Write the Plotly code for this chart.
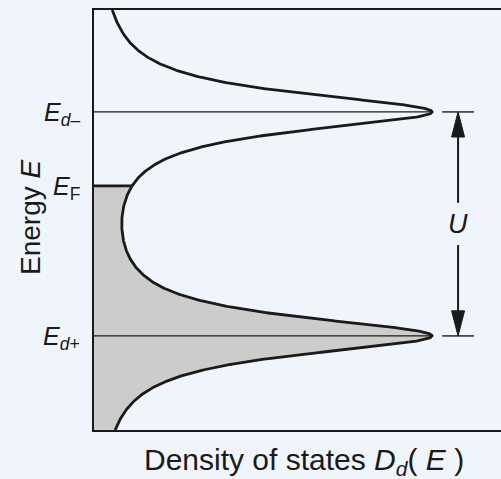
import numpy as np
import plotly.graph_objects as go

# Energy levels (in units of U, with E_d+ as the zero)
E_d_plus = 0.0
E_d_minus = 1.0
E_F = 0.67
gamma = 0.104          # Lorentzian half-width
E_min, E_max = -0.42, 1.455
D_max = 1.204          # horizontal extent of the axis (peak height = 1)

# Arrow / marker geometry for the U indicator
arrow_x = 1.077
tick_x0, tick_x1 = 1.030, 1.124
gap_lo, gap_hi = 0.406, 0.594
head_len, head_half = 0.112, 0.0192

line_col = "#1a1a1a"
fill_col = "#cccccc"
bg_col = "#eff5fb"
font_family = "Liberation Sans, Arial, Helvetica, sans-serif"


def dos(E):
    """Sum of two Lorentzians centred on E_d+ and E_d-, peak normalised to 1."""
    g2 = gamma ** 2
    shape = g2 / ((E - E_d_plus) ** 2 + g2) + g2 / ((E - E_d_minus) ** 2 + g2)
    peak = 1 + g2 / ((E_d_minus - E_d_plus) ** 2 + g2)
    return shape / peak


E = np.linspace(E_min, E_max, 1200)
D = dos(E)

E_occ = np.linspace(E_min, E_F, 600)
D_occ = dos(E_occ)

fig = go.Figure()

# Occupied states below the Fermi level
fig.add_trace(go.Scatter(x=D_occ, y=E_occ, mode="lines", fill="tozerox",
                         fillcolor=fill_col, line=dict(width=0),
                         hoverinfo="skip"))

# Level lines at E_d+ and E_d-
for lvl in (E_d_plus, E_d_minus):
    fig.add_trace(go.Scatter(x=[0, dos(np.array([lvl]))[0]], y=[lvl, lvl],
                             mode="lines", line=dict(color=line_col, width=1.2),
                             hoverinfo="skip"))
    fig.add_trace(go.Scatter(x=[tick_x0, tick_x1], y=[lvl, lvl],
                             mode="lines", line=dict(color=line_col, width=1.4),
                             hoverinfo="skip"))

# Fermi level edge of the filled region
fig.add_trace(go.Scatter(x=[0, dos(np.array([E_F]))[0]], y=[E_F, E_F],
                         mode="lines", line=dict(color=line_col, width=2.6),
                         hoverinfo="skip"))

# Density of states curve
fig.add_trace(go.Scatter(x=D, y=E, mode="lines",
                         line=dict(color=line_col, width=2.8), hoverinfo="skip"))

# U arrow shafts
fig.add_trace(go.Scatter(x=[arrow_x, arrow_x], y=[E_d_minus - head_len * 0.9, gap_hi],
                         mode="lines", line=dict(color=line_col, width=2),
                         hoverinfo="skip"))
fig.add_trace(go.Scatter(x=[arrow_x, arrow_x], y=[gap_lo, E_d_plus + head_len * 0.9],
                         mode="lines", line=dict(color=line_col, width=2),
                         hoverinfo="skip"))

# Arrow heads
for tip, direction in ((E_d_minus, -1), (E_d_plus, 1)):
    fig.add_trace(go.Scatter(
        x=[arrow_x, arrow_x - head_half, arrow_x + head_half, arrow_x],
        y=[tip, tip + direction * head_len, tip + direction * head_len, tip],
        mode="lines", fill="toself", fillcolor=line_col,
        line=dict(color=line_col, width=1), hoverinfo="skip"))

annotations = [
    dict(text="<i>E</i><sub><i>d</i>–</sub>", x=0, xref="paper", xanchor="right",
         xshift=-12, y=E_d_minus, yref="y", yanchor="middle", yshift=-2,
         font=dict(size=25)),
    dict(text="<i>E</i><sub>F</sub>", x=0, xref="paper", xanchor="right",
         xshift=-12, y=E_F, yref="y", yanchor="middle", yshift=-2,
         font=dict(size=25)),
    dict(text="<i>E</i><sub><i>d</i>+</sub>", x=0, xref="paper", xanchor="right",
         xshift=-12, y=E_d_plus, yref="y", yanchor="middle", yshift=-2,
         font=dict(size=25)),
    dict(text="<i>U</i>", x=arrow_x, xref="x", xanchor="center",
         y=(E_d_plus + E_d_minus) / 2, yref="y", yanchor="middle",
         font=dict(size=27)),
    dict(text="Energy <i>E</i>", x=0, xref="paper", xanchor="center", xshift=-64,
         y=0.5, yref="paper", yanchor="middle", textangle=-90, yshift=3,
         font=dict(size=28)),
    dict(text="Density of states <i>D<sub>d</sub></i>( <i>E</i> )", x=0.517,
         xref="paper", xanchor="center", y=0, yref="paper", yanchor="top",
         yshift=-11, font=dict(size=30)),
]
for a in annotations:
    a["showarrow"] = False
    a["font"]["color"] = line_col
    a["font"]["family"] = font_family

fig.update_layout(
    width=501, height=479,
    margin=dict(l=94, r=0, t=10, b=49),
    paper_bgcolor=bg_col, plot_bgcolor=bg_col,
    showlegend=False,
    annotations=annotations,
    xaxis=dict(range=[0, D_max], showgrid=False, zeroline=False,
               showticklabels=False, ticks="", showline=True, mirror=True,
               linecolor=line_col, linewidth=2),
    yaxis=dict(range=[E_min, E_max], showgrid=False, zeroline=False,
               showticklabels=False, ticks="", showline=True, mirror=False,
               linecolor=line_col, linewidth=2),
    font=dict(family=font_family, color=line_col),
)

fig.write_html("out.html")
